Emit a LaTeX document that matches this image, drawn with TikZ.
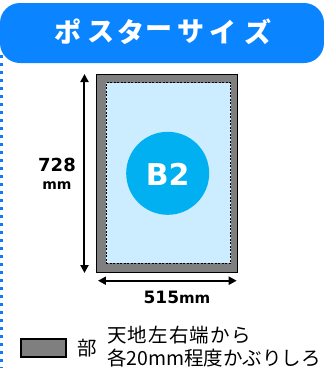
\documentclass[tikz,border=0pt]{standalone}
\usepackage{fontspec}
\setmainfont{DejaVu Sans}
\newfontfamily\cjk{Noto Sans CJK JP}
\usetikzlibrary{arrows.meta}
\definecolor{hdr}{HTML}{0A84FF}
\definecolor{dotblue}{HTML}{1478FF}
\definecolor{paper}{HTML}{CCECFF}
\definecolor{bleed}{HTML}{7F7F7F}
\definecolor{badge}{HTML}{00B0F0}
\tikzset{
  titlechar/.style={white, inner sep=0pt, font=\cjk\bfseries\fontsize{27}{27}\selectfont},
  dim/.style={line width=2pt, {Triangle[length=8pt,width=8pt]}-{Triangle[length=8pt,width=8pt]}},
  boxnode/.style={inner sep=0pt, outer sep=0pt, anchor=center},
  lbl/.style={inner sep=0pt, font=\bfseries},
  note/.style={inner sep=0pt, font=\cjk\fontsize{19.5}{19.5}\selectfont}
}
\begin{document}
\begin{tikzpicture}[x=1pt,y=-1pt]
\useasboundingbox (0,0) rectangle (324,368);
% header
\node[boxnode, fill=hdr, rounded corners=20pt, minimum width=324pt, minimum height=60pt] (header) at (162,33) {};
\foreach \c/\x [count=\i] in {ポ/68.5,ス/101,タ/131,ー/159,サ/191.5,イ/222.5,ズ/257.5} {
  \node[titlechar] (t\i) at (\x,32) {\c};
}
% dotted side line
\coordinate (dtop) at (1.5,55);
\coordinate (dbot) at (1.5,368);
\draw[dotblue, line width=3pt, dash pattern=on 3pt off 5pt] (dtop) -- (dbot);
% poster
\node[boxnode, draw=black, fill=bleed, line width=1.2pt, minimum width=141pt, minimum height=198.5pt] (outer) at (167.2,173.4) {};
\node[boxnode, draw=black, fill=paper, line width=0.6pt, dash pattern=on 2pt off 1.5pt, minimum width=124.5pt, minimum height=180.5pt] (inner) at (168.3,173) {};
\node[boxnode, circle, fill=badge, minimum size=83pt] (b2) at (167.7,173.3) {};
\node[lbl, white, font=\bfseries\fontsize{30}{30}\selectfont] (b2t) at (167.7,174) {B2};
% dimension arrows
\coordinate (vt) at (84.5,74);
\coordinate (vb) at (84.5,273);
\draw[dim] (vt) -- (vb);
\coordinate (hl) at (98,280.7);
\coordinate (hr) at (236.7,280.7);
\draw[dim] (hl) -- (hr);
\node[lbl, font=\bfseries\fontsize{18}{18}\selectfont] (h728) at (57,165) {728};
\node[lbl, font=\bfseries\fontsize{14}{14}\selectfont] (hmm) at (57,186) {mm};
\node[lbl] (w515) at (177,297) {\fontsize{17}{17}\selectfont 515\fontsize{15}{15}\selectfont mm};
% legend
\node[boxnode, draw=black, fill=bleed, line width=1.2pt, minimum width=45pt, minimum height=18pt] (key) at (43.5,348) {};
\node[note] (bu) at (87,348) {部};
\node[note, anchor=west] (l1) at (107,335) {\addfontfeature{LetterSpace=6}天地左右端から};
\node[note, anchor=west] (l2) at (107,358) {各20mm程度かぶりしろ};
\end{tikzpicture}
\end{document}
